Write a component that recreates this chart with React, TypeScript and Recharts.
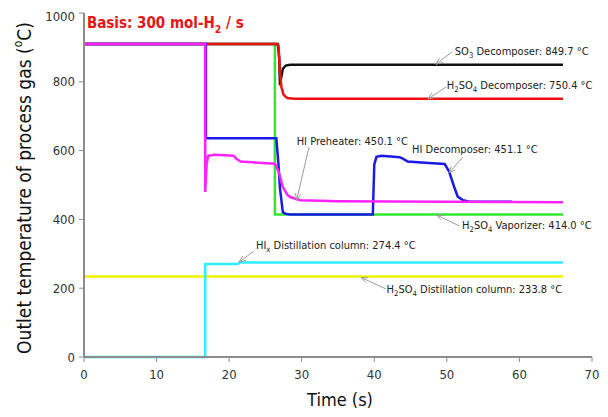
import React from "react";
import { LineChart, Line, XAxis, YAxis, ReferenceLine, ReferenceDot } from "recharts";

// time (s), outlet temperature (°C)
const SO3_DECOMPOSER = [[0, 910], [26.7, 910], [26.9, 870], [27.0, 790], [27.2, 815], [27.4, 838], [27.8, 847], [28.4, 849.7], [66, 849.7]];
const H2SO4_DECOMPOSER = [[0, 910], [26.6, 910], [26.8, 905], [27.0, 830], [27.2, 785], [27.5, 762], [28.0, 753], [29, 751], [66, 750.4]];
const H2SO4_VAPORIZER = [[0, 910], [26.3, 910], [26.3, 414], [66, 414]];
const HI_PREHEATER = [[0, 910], [16.7, 910], [16.7, 480], [16.9, 560], [17.1, 585], [18, 588], [20.6, 585], [21.0, 576], [21.6, 568], [24, 565], [26.3, 562], [26.8, 540], [27.4, 494], [28.0, 472], [28.4, 465], [29.8, 456], [35, 453], [50, 451], [66, 450.1]];
const HI_DECOMPOSER = [[0, 910], [16.8, 910], [16.8, 636], [26.5, 636], [26.8, 560], [27.0, 491], [27.4, 421], [27.8, 416], [28.4, 414], [39.8, 414], [40.0, 560], [40.3, 582], [41, 585], [43.5, 581], [44.0, 576], [44.6, 568], [47, 565], [49.7, 561], [50.3, 540], [51.0, 495], [51.5, 466], [52.2, 456], [53, 452], [59, 451.1]];
const HIX_DISTILLATION = [[0, 0], [16.7, 0], [16.7, 270], [21.2, 270], [21.4, 274.4], [66, 274.4]];
const H2SO4_DISTILLATION = [[0, 233.8], [66, 233.8]];

const TIME_TICKS = [0, 10, 20, 30, 40, 50, 60, 70];
const TEMP_TICKS = [0, 200, 400, 600, 800, 1000];

// text parts: [text, "sub" | "sup" | undefined]
type Part = [string, string?];

const ANNOTATIONS: { parts: Part[]; text: [number, number]; tail: [number, number]; head: [number, number] }[] = [
  { parts: [["SO"], ["3", "sub"], [" Decomposer: 849.7 °C"]], text: [51.1, 878], tail: [50.7, 887], head: [48.5, 851] },
  { parts: [["H"], ["2", "sub"], ["SO"], ["4", "sub"], [" Decomposer: 750.4 °C"]], text: [50.0, 779], tail: [49.9, 785], head: [47.4, 750] },
  { parts: [["HI Preheater: 450.1 °C"]], text: [29.3, 616], tail: [31.0, 610], head: [29.3, 456] },
  { parts: [["HI Decomposer: 451.1 °C"]], text: [45.2, 593], tail: [52.2, 581], head: [50.3, 535] },
  { parts: [["H"], ["2", "sub"], ["SO"], ["4", "sub"], [" Vaporizer: 414.0 °C"]], text: [52.1, 372], tail: [51.7, 381], head: [48.6, 413] },
  { parts: [["HI"], ["x", "sub"], [" Distillation column: 274.4 °C"]], text: [23.7, 314], tail: [23.4, 308], head: [21.4, 276] },
  { parts: [["H"], ["2", "sub"], ["SO"], ["4", "sub"], [" Distillation column: 233.8 °C"]], text: [41.7, 186], tail: [41.6, 198], head: [38.2, 231] },
];

const BASIS: Part[] = [["Basis: 300 mol-H"], ["2", "sub"], [" / s"]];
const BASIS_AT: [number, number] = [0.4, 956];

const FONT = "'Liberation Sans Narrow', 'DejaVu Sans Condensed', 'Arial Narrow', sans-serif";

const toData = (pts: number[][]) => pts.map(([t, v]) => ({ t, v }));

const SERIES = [
  { name: "H2SO4 Distillation column", data: H2SO4_DISTILLATION, color: "#f2f200" },
  { name: "HIx Distillation column", data: HIX_DISTILLATION, color: "#2eeeff" },
  { name: "H2SO4 Vaporizer", data: H2SO4_VAPORIZER, color: "#33e633" },
  { name: "SO3 Decomposer", data: SO3_DECOMPOSER, color: "#111111" },
  { name: "H2SO4 Decomposer", data: H2SO4_DECOMPOSER, color: "#ee1111" },
  { name: "HI Decomposer", data: HI_DECOMPOSER, color: "#1a1ae6" },
  { name: "HI Preheater", data: HI_PREHEATER, color: "#ff22ff" },
];

function RichText({ x, y, parts, size, ...rest }: any) {
  let cur = 0;
  return (
    <text x={x} y={y} fontFamily={FONT} fontSize={size} {...rest}>
      {parts.map(([s, kind]: Part, i: number) => {
        const target = kind === "sub" ? size * 0.3 : kind === "sup" ? -size * 0.4 : 0;
        const dy = target - cur;
        cur = target;
        return (
          <tspan key={i} dy={dy} fontSize={kind ? size * 0.7 : size}>
            {s}
          </tspan>
        );
      })}
    </text>
  );
}

function Arrow(props: any) {
  const { x1, y1, x2, y2 } = props;
  const a = Math.atan2(y2 - y1, x2 - x1);
  const len = 7;
  const w = 0.4;
  const p1 = [x2 - len * Math.cos(a - w), y2 - len * Math.sin(a - w)];
  const p2 = [x2 - len * Math.cos(a + w), y2 - len * Math.sin(a + w)];
  return (
    <g stroke="#9a9a9a" strokeWidth={1} fill="none">
      <line x1={x1} y1={y1} x2={x2} y2={y2} />
      <polyline points={`${p1[0]},${p1[1]} ${x2},${y2} ${p2[0]},${p2[1]}`} />
    </g>
  );
}

export default function App() {
  return (
    <LineChart width={600} height={408} margin={{ top: 5, right: 16, left: 0, bottom: 8 }}>
      <XAxis
        xAxisId={0}
        type="number"
        dataKey="t"
        domain={[0, 70]}
        ticks={TIME_TICKS}
        height={51}
        tick={{ fill: "#333", fontSize: 13, fontFamily: FONT }}
        axisLine={{ stroke: "#8c8c8c", strokeWidth: 2 }}
        tickLine={{ stroke: "#8c8c8c" }}
        tickSize={5}
        tickMargin={8}
      />
      <XAxis xAxisId="top" orientation="top" type="number" domain={[0, 70]} height={0} tick={false} tickLine={false} axisLine={{ stroke: "#8c8c8c", strokeWidth: 2 }} />
      <YAxis
        yAxisId={0}
        type="number"
        domain={[0, 1000]}
        ticks={TEMP_TICKS}
        width={76}
        tick={{ fill: "#333", fontSize: 13, fontFamily: FONT }}
        axisLine={{ stroke: "#8c8c8c", strokeWidth: 2 }}
        tickLine={{ stroke: "#8c8c8c" }}
        tickSize={5}
        tickMargin={4}
      />
      <YAxis yAxisId="right" orientation="right" type="number" domain={[0, 1000]} width={0} tick={false} tickLine={false} axisLine={{ stroke: "#8c8c8c", strokeWidth: 2 }} />

      {SERIES.map((s) => (
        <Line
          key={s.name}
          name={s.name}
          data={toData(s.data)}
          dataKey="v"
          type="linear"
          stroke={s.color}
          strokeWidth={2.5}
          dot={false}
          activeDot={false}
          isAnimationActive={false}
        />
      ))}

      {ANNOTATIONS.map((a, i) => (
        <ReferenceLine
          key={`arrow-${i}`}
          segment={[{ x: a.tail[0], y: a.tail[1] }, { x: a.head[0], y: a.head[1] }]}
          shape={(p: any) => <Arrow {...p} />}
        />
      ))}
      {ANNOTATIONS.map((a, i) => (
        <ReferenceDot
          key={`text-${i}`}
          x={a.text[0]}
          y={a.text[1]}
          r={0}
          shape={(p: any) => <RichText x={p.cx} y={p.cy} parts={a.parts} size={11} fill="#222" />}
        />
      ))}
      <ReferenceDot
        x={BASIS_AT[0]}
        y={BASIS_AT[1]}
        r={0}
        shape={(p: any) => <RichText x={p.cx} y={p.cy} parts={BASIS} size={15} fill="#e61414" fontWeight="bold" />}
      />

      <text
        x={16}
        y={180}
        transform="rotate(-90 16 180)"
        textAnchor="middle"
        dominantBaseline="central"
        fontFamily={FONT}
        fontSize={19}
        fill="#111"
      >
        Outlet temperature of process gas (<tspan dy={-6} fontSize={12}>o</tspan><tspan dy={6}>C)</tspan>
      </text>
      <text x={332} y={391} textAnchor="middle" dominantBaseline="central" fontFamily={FONT} fontSize={18} fill="#111">
        Time (s)
      </text>
    </LineChart>
  );
}
